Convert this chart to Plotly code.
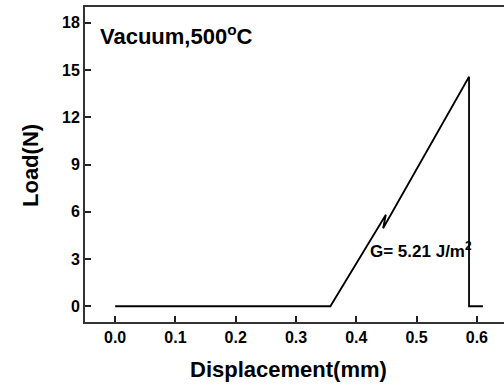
import plotly.graph_objects as go

displacement = [0.0, 0.357, 0.449, 0.4445, 0.587, 0.587, 0.61]
load = [0.0, 0.0, 5.81, 4.95, 14.57, 0.0, 0.0]

x_ticks = [0.0, 0.1, 0.2, 0.3, 0.4, 0.5, 0.6]
x_tick_labels = ["0.0", "0.1", "0.2", "0.3", "0.4", "0.5", "0.6"]
y_ticks = [0, 3, 6, 9, 12, 15, 18]
y_tick_labels = ["0", "3", "6", "9", "12", "15", "18"]

FONT = "Liberation Sans, Arial, sans-serif"

fig = go.Figure()
fig.add_trace(go.Scatter(x=displacement, y=load, mode="lines",
                         line=dict(color="black", width=1.8), showlegend=False))

fig.update_layout(
    width=504, height=385,
    margin=dict(l=85, r=0, t=7, b=63),
    paper_bgcolor="white", plot_bgcolor="white",
    font=dict(family=FONT, color="black"),
    xaxis=dict(range=[-0.05, 0.645], tickvals=x_ticks, ticktext=x_tick_labels,
               ticks="inside", ticklen=6, tickwidth=1.5, tickcolor="#222",
               showline=True, linecolor="#333", linewidth=2, mirror=True,
               showgrid=False, zeroline=False,
               tickfont=dict(size=16, family=FONT, weight="bold")),
    yaxis=dict(range=[-1, 19], tickvals=y_ticks, ticktext=y_tick_labels,
               ticks="inside", ticklen=6, tickwidth=1.5, tickcolor="#222",
               showline=True, linecolor="#333", linewidth=2, mirror=False,
               showgrid=False, zeroline=False,
               tickfont=dict(size=16, family=FONT, weight="bold")),
    annotations=[
        dict(text="Vacuum,500<sup>o</sup>C", x=98, y=385-35, xref="paper", yref="paper",
             showarrow=False, xanchor="left", yanchor="middle",
             font=dict(size=22, family=FONT, weight="bold")),
        dict(text="G= 5.21 J/m<sup>2</sup>", x=0.419, y=3.6, xref="x", yref="y",
             showarrow=False, xanchor="left", yanchor="middle",
             font=dict(size=17, family=FONT, weight="bold")),
        dict(text="Displacement(mm)", x=288.5, y=385-369, xref="paper", yref="paper",
             showarrow=False, xanchor="center", yanchor="middle",
             font=dict(size=22, family=FONT, weight="bold")),
        dict(text="Load(N)", x=30, y=385-166, xref="paper", yref="paper",
             showarrow=False, xanchor="center", yanchor="middle", textangle=-90,
             font=dict(size=22, family=FONT, weight="bold")),
    ],
)

# convert pixel positions for paper-referenced annotations
pw = 504 - 85
ph = 385 - 7 - 63
for a in fig.layout.annotations:
    if a.xref == "paper":
        a.x = (a.x - 85) / pw
        a.y = (a.y - 63) / ph

fig.write_html("out.html")
